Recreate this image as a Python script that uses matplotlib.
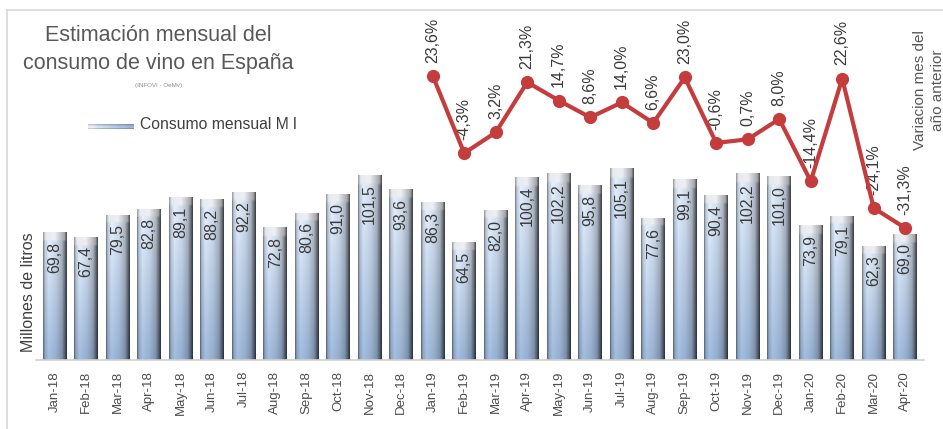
import numpy as np
import matplotlib
matplotlib.use('Agg')
import matplotlib.pyplot as plt
from matplotlib.lines import Line2D

# consumo mensual de vino (millones de litros) y variación interanual (%)
meses = ['Jan-18', 'Feb-18', 'Mar-18', 'Apr-18', 'May-18', 'Jun-18', 'Jul-18',
         'Aug-18', 'Sep-18', 'Oct-18', 'Nov-18', 'Dec-18', 'Jan-19', 'Feb-19',
         'Mar-19', 'Apr-19', 'May-19', 'Jun-19', 'Jul-19', 'Aug-19', 'Sep-19',
         'Oct-19', 'Nov-19', 'Dec-19', 'Jan-20', 'Feb-20', 'Mar-20', 'Apr-20']
consumo = [69.8, 67.4, 79.5, 82.8, 89.1, 88.2, 92.2, 72.8, 80.6, 91.0, 101.5, 93.6,
           86.3, 64.5, 82.0, 100.4, 102.2, 95.8, 105.1, 77.6, 99.1, 90.4, 102.2, 101.0,
           73.9, 79.1, 62.3, 69.0]
meses_var = meses[12:]
variacion = [23.6, -4.3, 3.2, 21.3, 14.7, 8.6, 14.0, 6.6, 23.0, -0.6, 0.7, 8.0,
             -14.4, 22.6, -24.1, -31.3]

plt.rcParams['font.family'] = ['Liberation Sans', 'DejaVu Sans']

fig = plt.figure(figsize=(9.43, 4.29), dpi=100)
ax = fig.add_axes([0.038, 0.161, 0.942, 0.774])

x = np.arange(len(meses))
ancho = 0.76

# bordes del recuadro del gráfico
fig.add_artist(Line2D([0.007, 1.0], [0.977, 0.977], color='#d9d9d9', lw=1.2))
fig.add_artist(Line2D([0.007, 0.007], [0.0, 0.977], color='#d9d9d9', lw=1.2))


def sombreado(h, filas=60, cols=40):
    # degradado tipo cilindro: claro a la izquierda, oscuro en el borde derecho
    u = np.linspace(0, 1, cols)
    perfil = np.interp(u, [0, 0.06, 0.22, 0.55, 0.8, 0.92, 1.0],
                       [0.55, 0.88, 1.06, 0.97, 0.8, 0.5, 0.28])
    t = np.linspace(1, 0, filas)[:, None]
    abajo = np.array([0.60, 0.70, 0.83])
    arriba = np.array([0.86, 0.90, 0.95])
    base = abajo + (arriba - abajo) * t[..., None]
    img = base * perfil[None, :, None]
    # tapa biselada
    tapa = max(1, int(round(filas * 4.5 / h)))
    gris = np.array([0.86, 0.87, 0.89])
    img[:tapa] = gris * np.interp(u, [0, 0.1, 0.5, 0.9, 1.0],
                                  [0.7, 1.05, 1.08, 0.75, 0.35])[None, :, None]
    return np.clip(img, 0, 1)


barras = ax.bar(x, consumo, width=ancho, color='none', edgecolor='none', zorder=2)
for b, v in zip(barras, consumo):
    x0 = b.get_x()
    ax.imshow(sombreado(v), extent=(x0, x0 + ancho, 0, v), aspect='auto',
              interpolation='bilinear', zorder=2)
    ax.text(b.get_x() + ancho / 2, v - 5, f'{v:.1f}'.replace('.', ','),
            rotation=90, ha='center', va='top', fontsize=11.5, color='#3a3a3a', zorder=3)

ax.set_xlim(-0.6, 27.6)
ax.set_ylim(0, 182.4)
ax.set_xticks(x)
ax.set_xticklabels(meses, rotation=90, fontsize=9.5, color='#4d4d4d')
ax.tick_params(axis='x', length=0, pad=8)
ax.set_yticks([])
for s in ['top', 'right', 'left']:
    ax.spines[s].set_visible(False)
ax.spines['bottom'].set_color('#d0d0d0')
ax.spines['bottom'].set_linewidth(1.2)
ax.patch.set_alpha(0)

# variación respecto al mismo mes del año anterior
ax2 = ax.twinx()
xv = [meses.index(m) for m in meses_var]
ax2.plot(xv, variacion, color='#c43c3c', lw=3, marker='o', markersize=8.5, zorder=5)
for xi, v in zip(xv, variacion):
    ax2.annotate(f'{v:.1f}%'.replace('.', ','), (xi, v), xytext=(0, 9.5),
                 textcoords='offset points', rotation=90, ha='center', va='bottom',
                 fontsize=11.5, color='#3a3a3a')
ax2.set_ylim(-78.9, 40.9)
ax2.set_yticks([])
for s in ax2.spines.values():
    s.set_visible(False)

# títulos y leyenda
fig.text(0.168, 0.918, 'Estimación mensual del', ha='center', va='center',
         fontsize=15.5, color='#595959')
fig.text(0.168, 0.853, 'consumo de vino en España', ha='center', va='center',
         fontsize=15.5, color='#595959')
fig.text(0.168, 0.80, '(INFOVI - OeMv)', ha='center', va='center',
         fontsize=4.5, color='#8c8c8c')
leyenda = fig.add_axes([0.093, 0.700, 0.048, 0.012])
leyenda.imshow(sombreado(100, filas=6, cols=40).transpose(1, 0, 2)[::-1],
               aspect='auto', extent=(0, 1, 0, 1))
leyenda.axis('off')
fig.text(0.148, 0.709, 'Consumo mensual M l', ha='left', va='center',
         fontsize=11.3, color='#404040')

fig.text(0.03, 0.32, 'Millones de litros', rotation=90, ha='center', va='center',
         fontsize=11.5, color='#404040')
fig.text(0.985, 0.79, 'Variacion mes del\naño anterior', rotation=90, ha='center',
         va='center', multialignment='center', fontsize=11, color='#595959',
         linespacing=1.3)

fig.savefig('out.png', dpi=100)
